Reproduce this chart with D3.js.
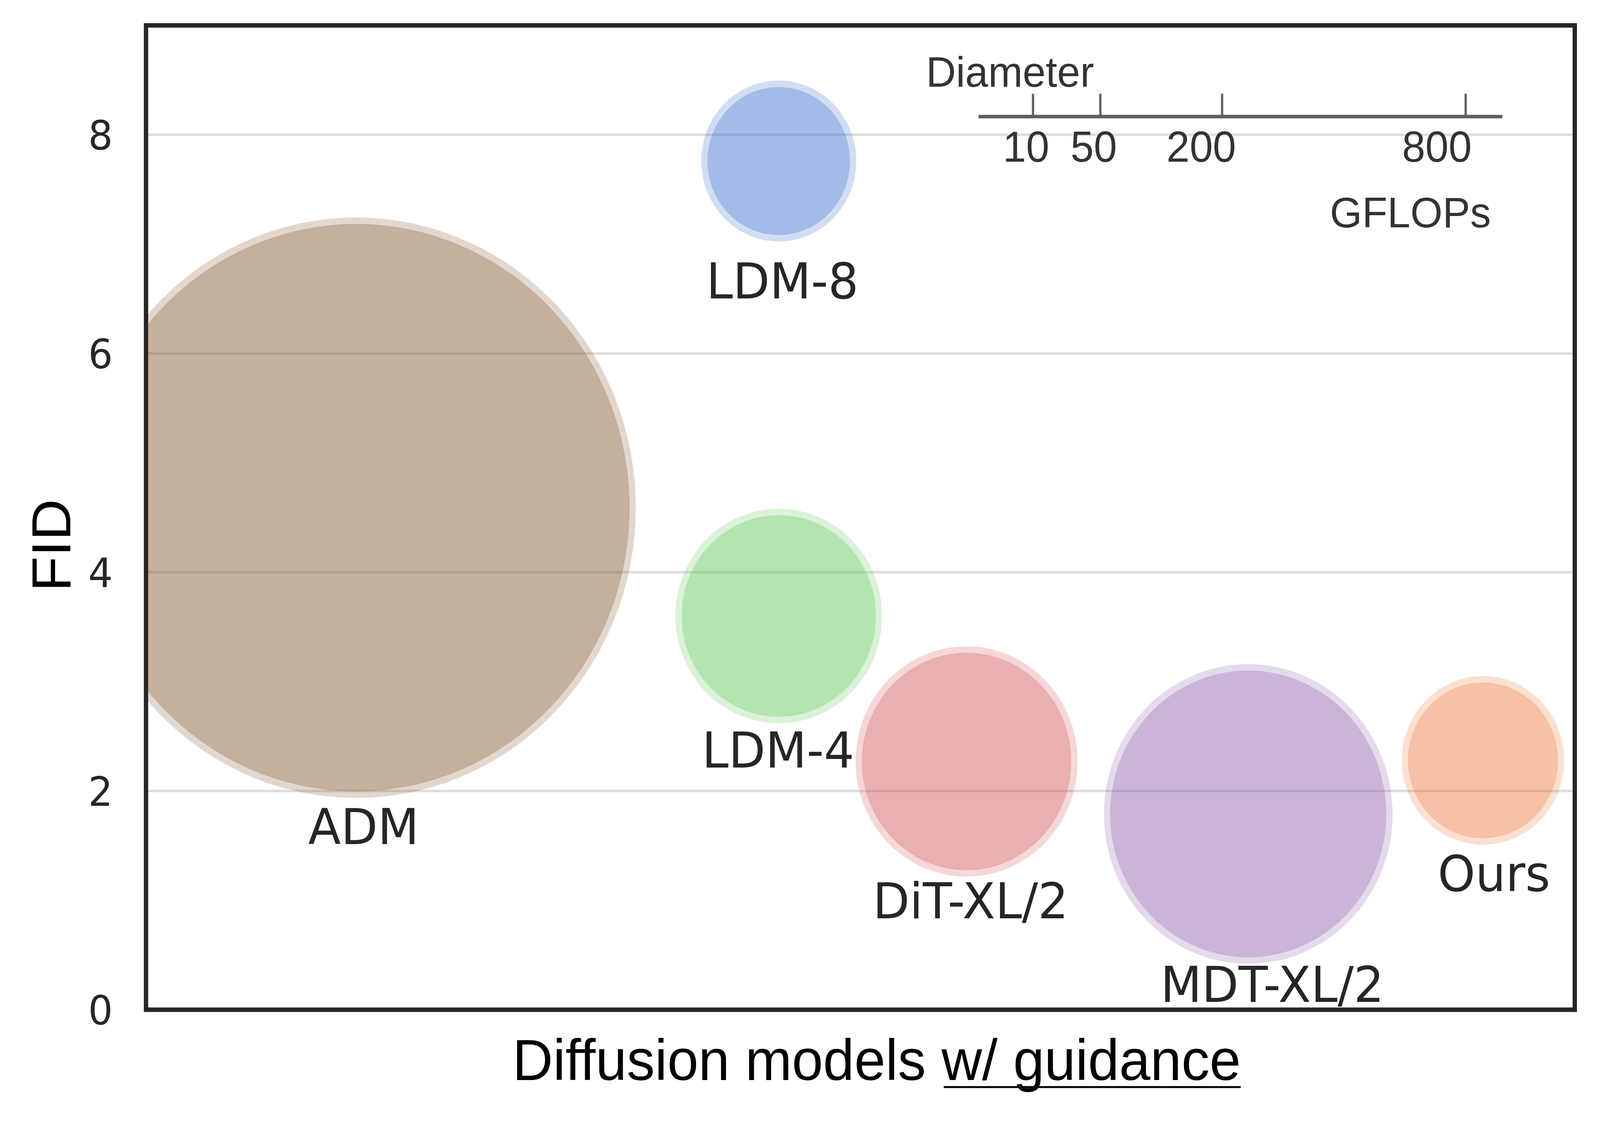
<!DOCTYPE html>
<html>
<head>
<meta charset="utf-8">
<script src="https://cdn.jsdelivr.net/npm/d3@7"></script>
<style>
  html, body { margin: 0; padding: 0; background: #fff; overflow: hidden; }
  svg { display: block; width: 100vw; height: 100vh; }
</style>
</head>
<body>
<svg id="chart" viewBox="0 0 4252 2875" preserveAspectRatio="none"></svg>
<script>
// data
const models = ['ADM', 'LDM-8', 'LDM-4', 'DiT-XL/2', 'MDT-XL/2', 'Ours']
const fid = [4.59, 7.76, 3.60, 2.27, 1.79, 2.28]
const xPos = [1.03, 3.10, 3.10, 4.02, 5.40, 6.55]
const gflops = [1054, 81, 144, 166, 281, 89]
const labelX = [1.066, 3.118, 3.097, 4.04, 5.518, 6.604]
const labelY = [1.68, 6.67, 2.38, 1.00, 0.235, 1.25]
const yTicks = [0, 2, 4, 6, 8]
const legendTicks = [10, 50, 200, 800]
const legendMax = 925
const colors = ['#8c613c', '#4878d0', '#6acc64', '#d65f5f', '#956cb4', '#ee854a']

// layout
const plotL = 388, plotR = 4185, plotT = 65, plotB = 2585
const ring = 16.5
const dejavu = "'DejaVu Sans', sans-serif"
const arial = "'Liberation Sans', Arial, sans-serif"

let svg = d3.select('#chart')
let x = d3.scaleLinear().domain([0, 7]).range([plotL, plotR])
let y = d3.scaleLinear().domain([0, 9]).range([plotB, plotT])
// bubble diameter in px, same scale as the "Diameter" legend
let diam = d3.scaleSqrt().domain([0, legendMax]).range([0, 1392])

svg.append('clipPath').attr('id', 'plot-clip')
    .append('rect').attr('x', plotL).attr('y', plotT)
    .attr('width', plotR - plotL).attr('height', plotB - plotT)

// grid
svg.append('g').selectAll('line').data(yTicks.filter(d => d > 0)).join('line')
    .attr('x1', plotL).attr('x2', plotR)
    .attr('y1', d => y(d)).attr('y2', d => y(d))
    .attr('stroke', '#dddddd').attr('stroke-width', 6.5)

// bubbles: pale rim + fill
let bubbles = svg.append('g').attr('clip-path', 'url(#plot-clip)')
models.forEach((m, i) => {
    let r = diam(gflops[i]) / 2
    bubbles.append('circle')
        .attr('cx', x(xPos[i])).attr('cy', y(fid[i])).attr('r', r)
        .attr('fill', colors[i]).attr('fill-opacity', 0.25)
    bubbles.append('circle')
        .attr('cx', x(xPos[i])).attr('cy', y(fid[i])).attr('r', r - ring)
        .attr('fill', colors[i]).attr('fill-opacity', 1 / 3)
})

// frame
svg.append('rect')
    .attr('x', plotL).attr('y', plotT)
    .attr('width', plotR - plotL).attr('height', plotB - plotT)
    .attr('fill', 'none').attr('stroke', '#262626').attr('stroke-width', 11.5)

// y axis
let yAxis = svg.append('g').attr('transform', 'translate(' + plotL + ',0)')
    .call(d3.axisLeft(y).tickValues(yTicks).tickSize(0).tickPadding(88).tickFormat(d3.format('d')))
yAxis.select('.domain').remove()
yAxis.selectAll('text')
    .attr('dy', '0.364em')
    .attr('font-family', dejavu).attr('font-size', 103).attr('fill', '#262626')

// bubble labels
svg.append('g').selectAll('text').data(models).join('text')
    .attr('x', (d, i) => x(labelX[i]))
    .attr('y', (d, i) => y(labelY[i]))
    .attr('dy', '0.364em')
    .attr('text-anchor', 'middle')
    .attr('font-family', dejavu).attr('font-size', 127).attr('fill', '#262626')
    .text(d => d)

// axis titles
svg.append('text')
    .attr('transform', 'translate(187,1396) rotate(-90)')
    .attr('text-anchor', 'middle')
    .attr('font-family', arial).attr('font-size', 147).attr('fill', '#000')
    .text('FID')

let xTitle = svg.append('text')
    .attr('x', 1362).attr('y', 2765)
    .attr('font-family', arial).attr('font-size', 149).attr('fill', '#000')
let part1 = 'Diffusion models '
let part2 = 'w/ guidance'
xTitle.append('tspan').text(part1)
xTitle.append('tspan').text(part2)
let node = xTitle.node()
let u0 = node.getStartPositionOfChar(part1.length).x
let u1 = node.getEndPositionOfChar(part1.length + part2.length - 1).x
svg.append('line')
    .attr('x1', u0 + 6).attr('x2', u1).attr('y1', 2783).attr('y2', 2783)
    .attr('stroke', '#000').attr('stroke-width', 5)

// size legend
const legX = 2600, legY = 298
const legendLabelDx = [-18, -17, -55, -76]
let leg = svg.append('g').attr('transform', 'translate(' + legX + ',' + legY + ')')
let legAxis = leg.append('g')
    .call(d3.axisTop(diam).tickValues(legendTicks).tickSizeInner(58).tickSizeOuter(0).tickFormat(''))
legAxis.select('.domain').attr('stroke', '#5f5f5f').attr('stroke-width', 9)
legAxis.selectAll('.tick line').attr('stroke', '#5f5f5f').attr('stroke-width', 6)
legAxis.selectAll('.tick text').remove()
leg.selectAll('text.lbl').data(legendTicks).join('text').attr('class', 'lbl')
    .attr('x', (d, i) => diam(d) + legendLabelDx[i])
    .attr('y', 116)
    .attr('text-anchor', 'middle')
    .attr('font-family', arial).attr('font-size', 111).attr('fill', '#333333')
    .text(d => d)
svg.append('text')
    .attr('x', 2461).attr('y', 222)
    .attr('font-family', arial).attr('font-size', 110).attr('fill', '#333333')
    .text('Diameter')
svg.append('text')
    .attr('x', 3962).attr('y', 582)
    .attr('text-anchor', 'end')
    .attr('font-family', arial).attr('font-size', 110).attr('fill', '#333333')
    .text('GFLOPs')
</script>
</body>
</html>
